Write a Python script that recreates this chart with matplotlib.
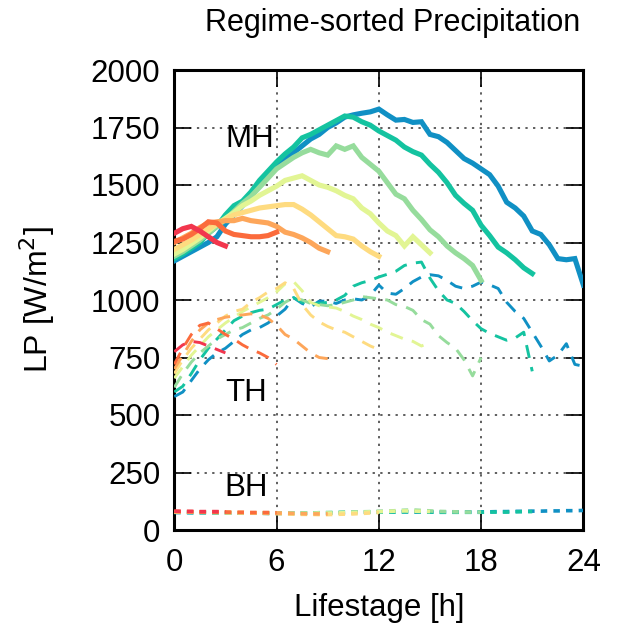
import matplotlib
matplotlib.use("Agg")
import matplotlib.pyplot as plt
import numpy as np

plt.rcParams['font.family'] = ['Liberation Sans', 'DejaVu Sans']

# lifetimes (h) of the tracked systems, one colour each
lifetimes = [24, 21, 18, 15, 12, 9, 6, 3]
colors = ['#1090c4', '#14c3a0', '#96dc9c', '#e2f594',
          '#fedb80', '#fda65a', '#fb6b3c', '#f2364d']

# MH (solid), sampled every 0.5 h from 0 to lifetime
mh = {
    24: [1170, 1190, 1210, 1230, 1250, 1275, 1330, 1370, 1410, 1450, 1500, 1545,
         1580, 1610, 1640, 1670, 1700, 1720, 1750, 1770, 1795, 1805, 1812, 1818,
         1830, 1805, 1782, 1785, 1772, 1775, 1720, 1710, 1685, 1650, 1615, 1595,
         1570, 1545, 1495, 1425, 1400, 1365, 1300, 1285, 1240, 1180, 1175, 1180, 1065],
    21: [1180, 1200, 1225, 1250, 1290, 1320, 1370, 1410, 1430, 1470, 1520, 1560,
         1600, 1635, 1665, 1705, 1720, 1740, 1760, 1780, 1800, 1795, 1775, 1760,
         1735, 1715, 1695, 1665, 1645, 1630, 1590, 1555, 1510, 1455, 1420, 1390,
         1325, 1280, 1230, 1205, 1175, 1140, 1115],
    18: [1190, 1210, 1235, 1260, 1290, 1320, 1350, 1385, 1420, 1450, 1490, 1530,
         1570, 1595, 1620, 1640, 1655, 1640, 1630, 1670, 1655, 1670, 1620, 1590,
         1560, 1510, 1460, 1440, 1390, 1350, 1305, 1275, 1235, 1205, 1180, 1150, 1085],
    15: [1200, 1220, 1245, 1270, 1300, 1330, 1355, 1380, 1410, 1430, 1455, 1475,
         1495, 1520, 1530, 1540, 1520, 1500, 1490, 1475, 1455, 1440, 1400, 1375,
         1335, 1300, 1280, 1235, 1275, 1240, 1205],
    12: [1220, 1240, 1260, 1285, 1310, 1330, 1350, 1370, 1380, 1390, 1400, 1405,
         1410, 1415, 1415, 1395, 1370, 1340, 1310, 1280, 1275, 1265, 1235, 1210, 1190],
    9: [1250, 1270, 1290, 1315, 1335, 1340, 1345, 1345, 1355, 1345, 1340, 1335,
        1320, 1295, 1285, 1270, 1250, 1225, 1210],
    6: [1255, 1265, 1285, 1310, 1340, 1335, 1300, 1285, 1280, 1275, 1275, 1280, 1295],
    3: [1290, 1310, 1320, 1300, 1275, 1250, 1235],
}

# TH (dashed)
th = {
    24: [580, 600, 650, 700, 740, 770, 790, 820, 850, 870, 880, 900, 930, 960,
         1010, 985, 970, 995, 995, 985, 1000, 1005, 1000, 1020, 1065, 1030, 1025,
         1050, 1080, 1100, 1110, 1105, 1085, 1060, 1050, 1060, 1078, 1066, 1050,
         990, 950, 920, 860, 800, 735, 760, 810, 720, 712],
    21: [600, 625, 680, 740, 790, 830, 870, 910, 930, 945, 955, 960, 980, 1000,
         1010, 990, 985, 985, 990, 1000, 1020, 1060, 1075, 1085, 1100, 1112, 1125,
         1150, 1160, 1165, 1095, 1040, 1000, 985, 950, 910, 875, 855, 840, 825,
         835, 860, 690],
    18: [620, 680, 730, 770, 800, 830, 850, 870, 880, 900, 920, 935, 960, 990,
         1010, 1000, 985, 980, 975, 980, 990, 1000, 1015, 1010, 1005, 1000, 980,
         972, 955, 915, 895, 845, 815, 790, 740, 670, 750],
    15: [660, 710, 760, 800, 840, 870, 900, 925, 950, 970, 990, 1010, 1035, 1070,
         1080, 1040, 990, 975, 970, 965, 950, 930, 915, 895, 880, 860, 845, 830,
         820, 800, 815],
    12: [680, 740, 790, 830, 870, 900, 930, 950, 960, 990, 1010, 1035, 1050, 1075,
         1050, 980, 935, 905, 885, 870, 860, 840, 820, 800, 785],
    9: [700, 760, 820, 870, 900, 915, 925, 930, 935, 940, 935, 920, 890, 850,
        830, 800, 770, 750, 745],
    6: [720, 790, 850, 890, 900, 875, 850, 830, 805, 785, 770, 750, 720],
    3: [775, 805, 820, 815, 800, 785, 770],
}

# BH (dotted)
bh = {
    24: [76, 76, 75, 75, 75, 74, 74, 74, 73, 73, 73, 72, 72, 72, 72, 72, 73, 73,
         73, 74, 75, 76, 77, 78, 80, 80, 79, 79, 78, 78, 78, 78, 78, 78, 78, 78,
         79, 79, 80, 80, 81, 81, 82, 82, 83, 83, 84, 84, 85],
    21: [77, 77, 76, 76, 75, 75, 75, 74, 74, 74, 73, 73, 73, 73, 73, 74, 74, 75,
         75, 76, 77, 77, 78, 78, 78, 78, 78, 79, 80, 79, 78, 77, 77, 77, 77, 77,
         77, 78, 78, 78, 79, 80, 80],
    18: [78, 78, 77, 77, 76, 76, 75, 75, 74, 74, 74, 73, 73, 73, 73, 74, 74, 75,
         76, 76, 77, 78, 79, 80, 81, 82, 84, 86, 87, 85, 83, 81, 80, 79, 78, 78, 78],
    15: [78, 78, 78, 77, 77, 76, 76, 75, 75, 74, 74, 73, 73, 72, 72, 72, 72, 73,
         73, 74, 75, 76, 77, 79, 80, 81, 82, 83, 82, 81, 80],
    12: [79, 79, 78, 78, 77, 77, 76, 75, 75, 74, 73, 72, 71, 70, 69, 68, 68, 67,
         67, 68, 69, 70, 72, 74, 76],
    9: [80, 79, 79, 78, 78, 77, 77, 76, 76, 75, 75, 74, 74, 73, 72, 71, 70, 70, 70],
    6: [81, 80, 80, 79, 79, 78, 78, 77, 77, 76, 76, 76, 75],
    3: [82, 81, 81, 80, 80, 80, 79],
}

fig = plt.figure(figsize=(6.18, 6.25), dpi=100)
ax = fig.add_axes([0.282, 0.152, 0.662, 0.736])

for L, c in zip(lifetimes, colors):
    t = np.arange(0, L + 0.01, 0.5)
    ax.plot(t, th[L], color=c, lw=2.1, dashes=(4.5, 3.2), zorder=3)
    ax.plot(t, bh[L], color=c, lw=2.6, dashes=(1.8, 1.7), zorder=3)
for L, c in zip(lifetimes, colors):
    t = np.arange(0, L + 0.01, 0.5)
    ax.plot(t, mh[L], color=c, lw=3.7, solid_joinstyle='miter', zorder=4)

ax.set_xlim(0, 24)
ax.set_ylim(0, 2000)
ax.set_xticks([0, 6, 12, 18, 24])
ax.set_yticks(np.arange(0, 2001, 250))
ax.grid(True, color='#333333', lw=1.1, linestyle=(0, (1.5, 3.5)), zorder=1)
ax.tick_params(direction='in', length=12, width=1.2, top=True, right=True,
               labelsize=22.5, colors='black')
ax.tick_params(axis='x', pad=13)
ax.tick_params(axis='y', pad=10)
for s in ax.spines.values():
    s.set_linewidth(2.2)

ax.text(4.4, 1700, 'MH', fontsize=22.5, ha='center', va='center')
ax.text(4.2, 597, 'TH', fontsize=22.5, ha='center', va='center')
ax.text(4.2, 184, 'BH', fontsize=22.5, ha='center', va='center')

ax.set_xlabel('Lifestage [h]', fontsize=22.5, labelpad=11)
ax.set_ylabel('LP [W/m$^2$]', fontsize=23, labelpad=24)
fig.text(0.636, 0.963, 'Regime-sorted Precipitation', fontsize=22,
         ha='center', va='center')

fig.savefig('out.png', dpi=100)
